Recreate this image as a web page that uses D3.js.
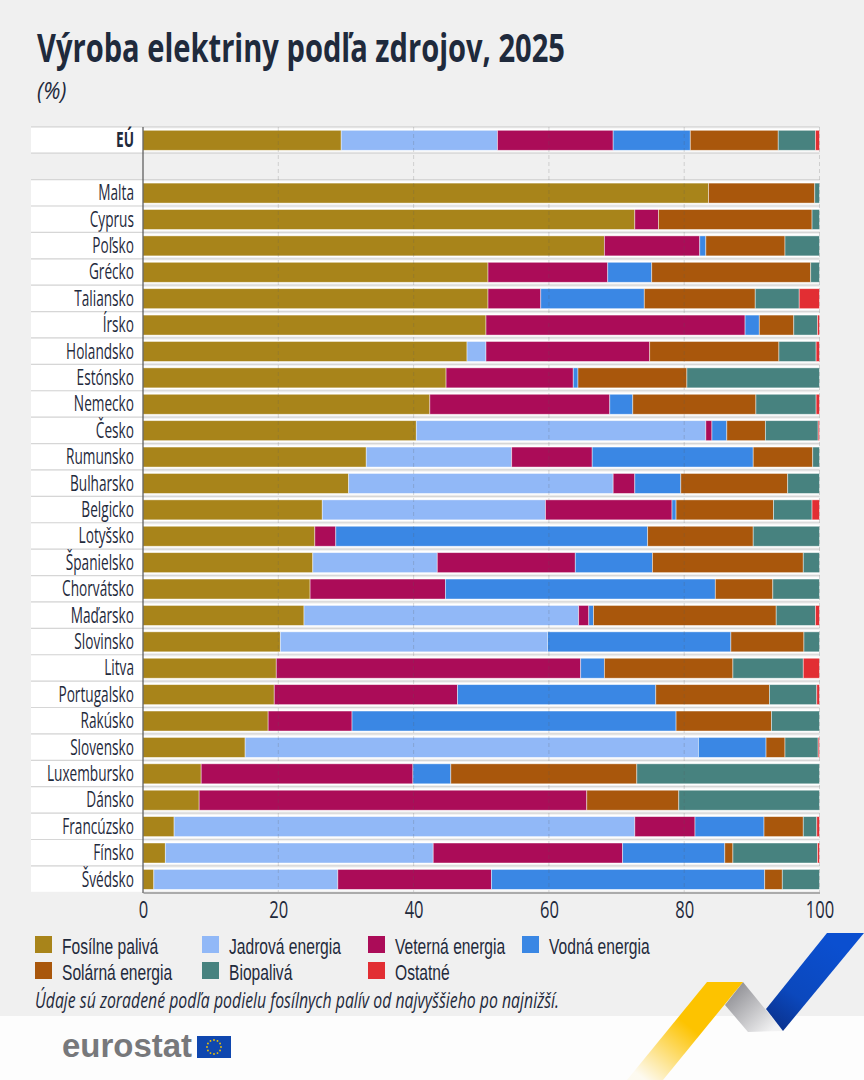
<!DOCTYPE html>
<html>
<head>
<meta charset="utf-8">
<script src="https://cdn.jsdelivr.net/npm/d3@7"></script>
<style>
html, body { margin: 0; padding: 0; background: #f0f0f0; }
svg { display: block; }
text { font-family: "Open Sans", "Liberation Sans", sans-serif; fill: #1f2a3c; }
</style>
</head>
<body>
<div id="chart"></div>
<script>
var countries = ["EÚ", "", "Malta", "Cyprus", "Poľsko", "Grécko", "Taliansko", "Írsko", "Holandsko", "Estónsko", "Nemecko", "Česko", "Rumunsko", "Bulharsko", "Belgicko", "Lotyšsko", "Španielsko", "Chorvátsko", "Maďarsko", "Slovinsko", "Litva", "Portugalsko", "Rakúsko", "Slovensko", "Luxembursko", "Dánsko", "Francúzsko", "Fínsko", "Švédsko"];

var fossil  = [29.3, 0, 83.6, 72.7, 68.2, 51.0, 51.0, 50.7, 47.9, 44.8, 42.4, 40.4, 33.0, 30.4, 26.5, 25.4, 25.1, 24.7, 23.8, 20.3, 19.7, 19.4, 18.5, 15.1, 8.6, 8.3, 4.6, 3.3, 1.6];
var nuclear = [23.1, 0, 0, 0, 0, 0, 0, 0, 2.8, 0, 0, 42.8, 21.5, 39.1, 33.0, 0, 18.4, 0, 40.6, 39.5, 0, 0, 0, 67.0, 0, 0, 68.1, 39.6, 27.2];
var wind    = [17.1, 0, 0, 3.5, 14.1, 17.7, 7.8, 38.3, 24.2, 18.8, 26.6, 0.9, 11.9, 3.2, 18.7, 3.1, 20.4, 20.0, 1.5, 0, 45.0, 27.1, 12.4, 0, 31.3, 57.3, 8.9, 28.0, 22.7];
var hydro   = [11.4, 0, 0, 0, 0.9, 6.5, 15.3, 2.1, 0, 0.7, 3.4, 2.2, 23.8, 6.8, 0.6, 46.1, 11.4, 39.9, 0.7, 27.1, 3.5, 29.3, 47.9, 10.0, 5.6, 0, 10.2, 15.1, 40.4];
var solar   = [13.0, 0, 15.7, 22.7, 11.7, 23.5, 16.4, 5.1, 19.1, 16.1, 18.2, 5.7, 8.8, 15.8, 14.4, 15.6, 22.3, 8.5, 27.0, 10.8, 19.0, 16.8, 14.1, 2.8, 27.5, 13.6, 5.8, 1.2, 2.6];
var biofuel = [5.5, 0, 0.7, 1.1, 5.1, 1.3, 6.5, 3.5, 5.5, 19.6, 8.9, 7.8, 1.0, 4.7, 5.7, 9.8, 2.4, 6.9, 5.8, 2.3, 10.4, 7.0, 7.1, 4.9, 27.0, 20.8, 2.0, 12.5, 5.5];
var other   = [0.6, 0, 0, 0, 0, 0, 3.0, 0.3, 0.5, 0, 0.5, 0.2, 0, 0, 1.1, 0, 0, 0, 0.6, 0, 2.4, 0.4, 0, 0.2, 0, 0, 0.4, 0.3, 0];

var seriesNames = ["Fosílne palivá", "Jadrová energia", "Veterná energia", "Vodná energia", "Solárná energia", "Biopalivá", "Ostatné"];
var seriesColors = ["#a8841a", "#91b8f7", "#ab0c58", "#3a87e4", "#a9570c", "#47827f", "#e22e33"];
var seriesValues = [fossil, nuclear, wind, hydro, solar, biofuel, other];
var xTicks = [0, 20, 40, 60, 80, 100];

var width = 864, height = 1080;
var narrow = 0.65; // no condensed font installed, squeeze Open Sans instead
var svg = d3.select("#chart").append("svg").attr("width", width).attr("height", height);

var x = d3.scaleLinear().domain([0, 100]).range([143, 819.5]);
var y = d3.scaleBand().domain(countries).range([126.8, 892.3]);
var barH = 20;

// footer
svg.append("rect").attr("x", 0).attr("y", 1016).attr("width", width).attr("height", 64).attr("fill", "#fdfdfd");

// title block
svg.append("text").attr("x", 37).attr("y", 62).attr("font-size", 39).attr("font-weight", "bold")
  .attr("textLength", 528).attr("lengthAdjust", "spacingAndGlyphs").text("Výroba elektriny podľa zdrojov, 2025");
svg.append("text").attr("transform", "translate(37,99) scale(0.9,1)").attr("font-size", 24).attr("font-style", "italic").text("(%)");

// row bands
var rows = svg.append("g").selectAll("g").data(countries).enter().append("g")
  .attr("transform", function(d) { return "translate(0," + y(d) + ")"; });
rows.filter(function(d) { return d !== ""; }).append("rect")
  .attr("x", 31).attr("y", 0.5).attr("width", 112).attr("height", y.bandwidth() - 1).attr("fill", "#fff");
rows.filter(function(d) { return d !== ""; }).append("rect")
  .attr("x", 143).attr("y", (y.bandwidth() - barH) / 2 - 1.5).attr("width", 676.5).attr("height", barH + 3).attr("fill", "#fff");
rows.append("line").attr("x1", 31).attr("x2", 819.5).attr("y1", 0).attr("y2", 0)
  .attr("stroke", "#d6d6d6").attr("stroke-width", 1.2);

// stacked bars
var table = countries.map(function(c, i) {
  var row = { country: c };
  seriesNames.forEach(function(s, j) { row[s] = seriesValues[j][i]; });
  return row;
});
var stack = d3.stack().keys(seriesNames)(table);

svg.append("g").selectAll("g").data(stack).enter().append("g")
  .attr("fill", function(d, i) { return seriesColors[i]; })
  .selectAll("rect")
  .data(function(d) { return d.filter(function(p) { return p[1] > p[0]; }); })
  .enter().append("rect")
  .attr("x", function(d) { return x(d[0]); })
  .attr("width", function(d) { return x(d[1]) - x(d[0]); })
  .attr("y", function(d) { return y(d.data.country) + (y.bandwidth() - barH) / 2 + 0.3; })
  .attr("height", barH)
  .attr("stroke", "rgba(255,255,255,0.55)")
  .attr("stroke-width", 0.8);

// dashed grid over the bars
svg.append("g").selectAll("line").data(xTicks.slice(1)).enter().append("line")
  .attr("x1", function(d) { return x(d); }).attr("x2", function(d) { return x(d); })
  .attr("y1", 127).attr("y2", 892)
  .attr("stroke", "rgba(90,90,90,0.22)").attr("stroke-width", 1).attr("stroke-dasharray", "4 3");

// row labels
rows.append("text")
  .attr("transform", "translate(134," + (y.bandwidth() / 2 + 7.5) + ") scale(" + narrow + ",1)")
  .attr("text-anchor", "end")
  .attr("font-size", 21).attr("font-weight", function(d) { return d === "EÚ" ? "bold" : "normal"; })
  .text(function(d) { return d; });

// axes
svg.append("line").attr("x1", 143).attr("x2", 143).attr("y1", 127).attr("y2", 893).attr("stroke", "#555").attr("stroke-width", 1.2);
var xAxis = svg.append("g").attr("transform", "translate(0,892.5)")
  .call(d3.axisBottom(x).tickValues(xTicks).tickSize(0).tickPadding(9));
xAxis.attr("font-family", null);
xAxis.select(".domain").attr("stroke", "#666").attr("stroke-width", 1.2);
xAxis.selectAll("text").attr("font-size", 23).attr("fill", "#1f2a3c")
  .attr("transform", "scale(0.72,1)");

// legend
var legendX = [35, 202, 368, 522, 35, 202, 368];
var legendY = [936, 936, 936, 936, 962, 962, 962];
var legend = svg.append("g").selectAll("g").data(seriesNames).enter().append("g")
  .attr("transform", function(d, i) { return "translate(" + legendX[i] + "," + legendY[i] + ")"; });
legend.append("rect").attr("width", 17).attr("height", 17).attr("fill", function(d, i) { return seriesColors[i]; });
legend.append("text").attr("transform", "translate(27,17.5) scale(0.71,1)").attr("font-size", 22)
  .style("font-family", "'Liberation Sans', sans-serif").text(function(d) { return d; });

// note
svg.append("text").attr("x", 35).attr("y", 1008).attr("font-size", 21).attr("font-style", "italic")
  .attr("textLength", 524).attr("lengthAdjust", "spacingAndGlyphs")
  .text("Údaje sú zoradené podľa podielu fosílnych palív od najvyššieho po najnižší.");

// eurostat logo
svg.append("text").attr("x", 62).attr("y", 1057).attr("font-size", 34).attr("font-weight", "bold")
  .attr("textLength", 130).attr("lengthAdjust", "spacingAndGlyphs")
  .style("font-family", "'Liberation Sans', sans-serif").style("fill", "#77787b").text("eurostat");
svg.append("rect").attr("x", 197).attr("y", 1036).attr("width", 34).attr("height", 22).attr("fill", "#0f47af");
svg.append("g").selectAll("circle").data(d3.range(12)).enter().append("circle")
  .attr("cx", function(d) { return 214 + 7 * Math.sin(d * Math.PI / 6); })
  .attr("cy", function(d) { return 1047 - 7 * Math.cos(d * Math.PI / 6); })
  .attr("r", 0.9).attr("fill", "#f5c400");

// ribbon decoration
var defs = svg.append("defs");
function grad(id, x1, y1, x2, y2, stops) {
  var g = defs.append("linearGradient").attr("id", id).attr("gradientUnits", "userSpaceOnUse")
    .attr("x1", x1).attr("y1", y1).attr("x2", x2).attr("y2", y2);
  stops.forEach(function(s) { g.append("stop").attr("offset", s[0]).attr("stop-color", s[1]).attr("stop-opacity", s[2]); });
}
grad("gy", 725, 982, 645, 1080, [[0, "#fdc300", 1], [0.45, "#fdc300", 1], [1, "#fdc300", 0.05]]);
grad("gg", 730, 990, 770, 1032, [[0, "#8f8f94", 1], [1, "#f2f2f3", 1]]);
grad("gb", 830, 940, 770, 1030, [[0, "#0b4fd0", 1], [0.6, "#0b48bd", 1], [1, "#0a2f88", 1]]);
var ribbon = d3.line();
svg.append("path").attr("d", ribbon([[743, 982], [783, 1031], [748, 1032], [725, 1005]]) + "Z").attr("fill", "url(#gg)");
svg.append("path").attr("d", ribbon([[707, 982], [743, 982], [663, 1080], [627, 1080]]) + "Z").attr("fill", "url(#gy)");
svg.append("path").attr("d", ribbon([[827, 933], [864, 933], [783, 1031], [766, 1009]]) + "Z").attr("fill", "url(#gb)");
</script>
</body>
</html>
